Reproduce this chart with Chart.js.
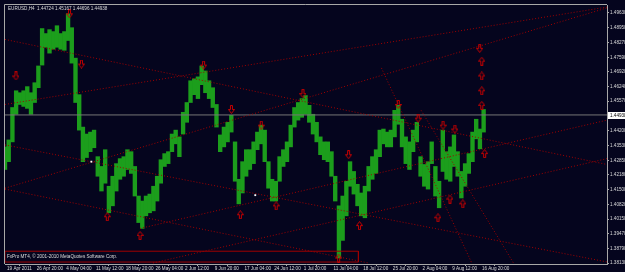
<!DOCTYPE html>
<html><head><meta charset="utf-8">
<script src="https://cdn.jsdelivr.net/npm/chart.js@4"></script>
<style>html,body{margin:0;padding:0;background:#05051e;}canvas{display:block}</style>
</head><body>
<canvas id="c" width="625" height="272"></canvas>
<script>
// ---------- data ----------
const symbolTitle = "EURUSD,H4  1.44724 1.45167 1.44696 1.44938";
const copyrightText = "FxPro MT4, \u00A9 2001-2010 MetaQuotes Software Corp.";
const currentPrice = 1.44938;

const xTickBars = [0,32,64,96,128,160,192,224,256,288,320,352,384,416,448,480,512];
const xTickLabels = ["19 Apr 2011","26 Apr 20:00","4 May 04:00","11 May 12:00","18 May 20:00","26 May 04:00","2 Jun 12:00","9 Jun 20:00","17 Jun 04:00","24 Jun 12:00","1 Jul 20:00","11 Jul 04:00","18 Jul 12:00","25 Jul 20:00","2 Aug 04:00","9 Aug 12:00","16 Aug 20:00"];
const yTickValues = [1.38130,1.38790,1.39470,1.40150,1.40820,1.41500,1.42180,1.42850,1.43530,1.44200,1.44880,1.45570,1.46240,1.46920,1.47590,1.48270,1.48950,1.49630];

// price ranges, one block per 4 H4 bars
const barHighs = [1.4347,1.4379,1.4528,1.4605,1.4596,1.4605,1.4624,1.4596,1.4642,1.4719,
1.4891,1.4868,1.4886,1.4877,1.4904,1.4868,1.4877,1.4959,1.4895,1.4755,
1.4587,1.4438,1.4406,1.4415,1.4424,1.4302,1.4257,1.4334,1.4166,1.4212,
1.4270,1.4293,1.4302,1.4334,1.4325,1.4257,1.4121,1.4098,1.4121,1.4130,
1.4166,1.4212,1.4288,1.4316,1.4325,1.4406,1.4424,1.4393,1.4506,1.4551,
1.4651,1.4660,1.4669,1.4719,1.4696,1.4651,1.4619,1.4542,1.4402,1.4438,
1.4460,1.4492,1.4370,1.4198,1.4279,1.4334,1.4334,1.4370,1.4415,1.4447,
1.4424,1.4279,1.4198,1.4189,1.4302,1.4334,1.4370,1.4447,1.4528,1.4551,
1.4569,1.4583,1.4538,1.4497,1.4460,1.4393,1.4370,1.4370,1.4325,1.4212,
1.4076,1.4121,1.4189,1.4279,1.4234,1.4175,1.4135,1.4166,1.4257,1.4302,
1.4334,1.4424,1.4429,1.4415,1.4424,1.4515,1.4538,1.4474,1.4393,1.4370,
1.4424,1.4460,1.4302,1.4266,1.4279,1.4370,1.4257,1.4189,1.4424,1.4325,
1.4347,1.4402,1.4325,1.4234,1.4270,1.4316,1.4415,1.4474,1.4429,1.4519];
const barLows = [1.4243,1.4279,1.4370,1.4497,1.4542,1.4533,1.4524,1.4497,1.4551,1.4619,
1.4723,1.4805,1.4778,1.4796,1.4805,1.4796,1.4791,1.4836,1.4732,1.4551,
1.4424,1.4279,1.4298,1.4325,1.4343,1.4212,1.4144,1.4180,1.4044,1.4076,
1.4144,1.4198,1.4212,1.4243,1.4225,1.4121,1.3999,1.3972,1.4030,1.4044,
1.4053,1.4098,1.4180,1.4257,1.4270,1.4325,1.4361,1.4302,1.4406,1.4460,
1.4551,1.4587,1.4569,1.4633,1.4596,1.4569,1.4528,1.4438,1.4325,1.4347,
1.4370,1.4415,1.4189,1.4085,1.4135,1.4212,1.4243,1.4270,1.4334,1.4361,
1.4279,1.4157,1.4098,1.4098,1.4189,1.4257,1.4279,1.4347,1.4438,1.4470,
1.4483,1.4497,1.4460,1.4406,1.4370,1.4311,1.4288,1.4279,1.4212,1.4098,
1.3836,1.3917,1.4030,1.4166,1.4130,1.4076,1.4030,1.4021,1.4144,1.4198,
1.4225,1.4302,1.4361,1.4347,1.4347,1.4393,1.4451,1.4347,1.4270,1.4243,
1.4325,1.4370,1.4212,1.4166,1.4153,1.4270,1.4121,1.4067,1.4234,1.4198,
1.4189,1.4257,1.4212,1.4112,1.4166,1.4225,1.4279,1.4384,1.4338,1.4415];

// trend lines: [barIndex, price] pairs
const trendLines = [
  [[0,1.4841],[649,1.4266]],
  [[0,1.4542],[649,1.4990]],
  [[0,1.4157],[649,1.4986]],
  [[0,1.4356],[649,1.3818]],
  [[0,1.4153],[392,1.3813]],
  [[145.6,1.3972],[649,1.4470]],
  [[159.5,1.3813],[649,1.4293]],
  [[405.8,1.4710],[503.2,1.3813]],
  [[448.6,1.4515],[548.2,1.3813]]
];
const boxCorners = [[0,1.38673],[381,1.38673],[381,1.38175],[0,1.38175],[0,1.38673]];
const upArrows = [[110.3,1.4026],[145.6,1.3940],[253.7,1.4035],[292.3,1.4076],[359.7,1.3836],[382.2,1.3985],[466.8,1.4021],[479.7,1.4107],[493.6,1.4085],[514,1.4741],[514,1.4673],[514,1.4605],[514,1.4538],[517.1,1.4316]];
const downArrows = [[11.8,1.4673],[69.6,1.4959],[82.4,1.4728],[214.1,1.4723],[244.1,1.4519],[276.2,1.4447],[321.2,1.4592],[370.4,1.4311],[424.0,1.4542],[445.4,1.4479],[472.2,1.4447],[485.0,1.4429],[511.8,1.4800]];
const whiteMarks = [[93.1,1.4279],[269.8,1.4125]];

// ---------- styling ----------
const BG = '#05051e';
const FONT = '"Liberation Sans", Arial, sans-serif';
const TXT = '#dcdcdc';
const AXIS = '#a8a8a8';

function makeArrow(up){
  const c = document.createElement('canvas'); c.width = 7; c.height = 9;
  const g = c.getContext('2d');
  let pts = [[3.5,0.5],[6.5,4.5],[4.5,4.5],[4.5,8.5],[2.5,8.5],[2.5,4.5],[0.5,4.5]];
  if(!up) pts = pts.map(p=>[p[0],9-p[1]]);
  g.strokeStyle = '#c80000'; g.lineWidth = 1;
  g.beginPath(); pts.forEach((p,i)=> i? g.lineTo(p[0],p[1]) : g.moveTo(p[0],p[1])); g.closePath(); g.stroke();
  return c;
}
const upImg = makeArrow(true), downImg = makeArrow(false);

const barData = barHighs.map((h,k)=>({x:k*4, y:[barLows[k], h]}));
const toXY = arr => arr.map(p=>({x:p[0], y:p[1]}));

const datasets = [];
datasets.push({type:'scatter', data:toXY(upArrows), pointStyle:upImg, order:0});
datasets.push({type:'scatter', data:toXY(downArrows), pointStyle:downImg, order:0});
datasets.push({type:'scatter', data:toXY(whiteMarks), pointStyle:'rect', pointRadius:1.3, backgroundColor:'#ffffff', borderColor:'#ffffff', borderWidth:0, order:0});
trendLines.forEach(seg=>datasets.push({type:'line', data:toXY(seg), borderColor:'#a00000', borderWidth:1, borderDash:[1,2], pointRadius:0, order:1}));
datasets.push({type:'line', data:toXY(boxCorners), borderColor:'#a00000', borderWidth:1, pointRadius:0, order:1});
datasets.push({type:'line', data:[{x:0,y:currentPrice},{x:649,y:currentPrice}], borderColor:'#767676', borderWidth:1, pointRadius:0, order:2});
datasets.push({type:'bar', data:barData, backgroundColor:'#1c9e1c', borderWidth:0, barPercentage:1, categoryPercentage:1, grouped:false, order:10});

const frame = {
  id:'frame',
  beforeDraw(chart){
    const g = chart.ctx; g.save(); g.fillStyle = BG; g.fillRect(0,0,chart.width,chart.height); g.restore();
  },
  afterDraw(chart){
    const g = chart.ctx, a = chart.chartArea, ys = chart.scales.y;
    g.save();
    g.strokeStyle = AXIS; g.lineWidth = 1;
    g.beginPath(); g.moveTo(a.left-0.5, a.bottom); g.lineTo(a.left-0.5, a.top-0.5); g.lineTo(a.right, a.top-0.5); g.stroke();
    g.font = '4.6px ' + FONT; g.fillStyle = TXT; g.textBaseline = 'middle'; g.textAlign = 'left';
    g.fillText(symbolTitle, a.left+3, a.top+4);
    g.fillText(copyrightText, a.left+2, ys.getPixelForValue(1.38424));
    const py = Math.round(ys.getPixelForValue(currentPrice));
    g.fillStyle = '#ffffff'; g.fillRect(a.right+1, py-3, chart.width-a.right-1, 7);
    g.fillStyle = '#000000'; g.fillText(currentPrice.toFixed(5), a.right+3, py+0.5);
    g.restore();
  }
};

new Chart(document.getElementById('c'), {
  type:'bar',
  data:{datasets},
  plugins:[frame],
  options:{
    responsive:false, animation:false, events:[],
    layout:{padding:{left:1, top:1, right:0, bottom:0}},
    plugins:{legend:{display:false}, tooltip:{enabled:false}},
    scales:{
      x:{type:'linear', min:0, max:649, offset:false,
        afterFit(s){ s.height = 8; },
        afterBuildTicks(s){ s.ticks = xTickBars.map(v=>({value:v})); },
        grid:{drawOnChartArea:false, drawTicks:true, tickLength:2, color:AXIS},
        border:{color:AXIS},
        ticks:{autoSkip:false, maxRotation:0, minRotation:0, align:'start', padding:0, labelOffset:2,
          color:TXT, font:{family:FONT, size:4.6},
          callback:(v,i)=> xTickLabels[i]}
      },
      y:{type:'linear', position:'right', min:1.38085, max:1.49993,
        afterFit(s){ s.width = 18; },
        afterBuildTicks(s){ s.ticks = yTickValues.map(v=>({value:v})); },
        grid:{drawOnChartArea:false, drawTicks:true, tickLength:2, color:AXIS},
        border:{color:AXIS},
        ticks:{autoSkip:false, padding:1, color:TXT, font:{family:FONT, size:4.6},
          callback:v=> Number(v).toFixed(5)}
      }
    }
  }
});
</script>
</body></html>
